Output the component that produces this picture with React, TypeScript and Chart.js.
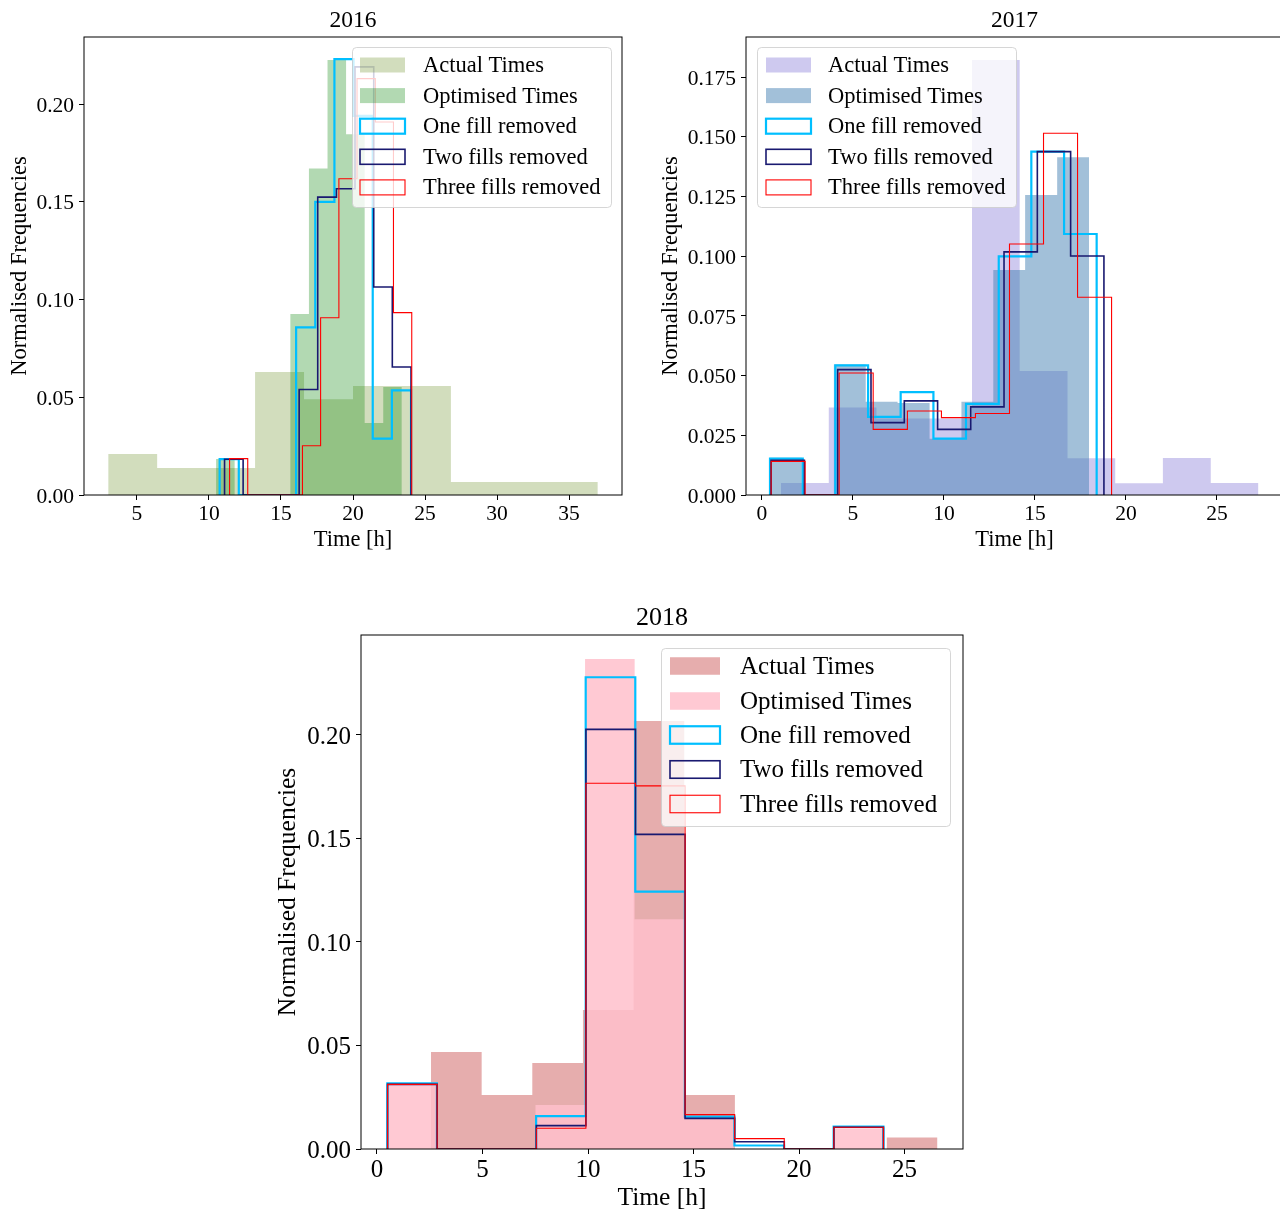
import React, { useEffect, useRef } from "react";
import { Chart, registerables } from "chart.js";

Chart.register(...registerables);

const FONT = "'Liberation Serif', 'Times New Roman', serif";

// ---------------- DATA ----------------
const LABELS = ["Actual Times", "Optimised Times", "One fill removed", "Two fills removed", "Three fills removed"];

// 2016
const ACT16_EDGES = [3.0, 6.4, 9.8, 13.2, 16.6, 20.0, 23.4, 26.8, 30.2, 33.6, 37.0];
const ACT16 = [0.021, 0.0138, 0.0138, 0.0629, 0.049, 0.0557, 0.0557, 0.0066, 0.0066, 0.0066];
const OPT16_EDGES = [10.49, 11.78, 13.07, 14.36, 15.65, 16.94, 18.23, 19.52, 20.81, 22.1, 23.39];
const OPT16 = [0.0184, 0, 0, 0, 0.0926, 0.167, 0.2225, 0.1846, 0.0368, 0.0552];
const ONE16_EDGES = [10.74, 12.07, 13.4, 14.72, 16.05, 17.38, 18.71, 20.04, 21.37, 22.7, 24.03];
const ONE16 = [0.0184, 0, 0, 0, 0.0858, 0.15, 0.223, 0.194, 0.0288, 0.0535];
const TWO16_EDGES = [11.08, 12.37, 13.67, 14.96, 16.26, 17.55, 18.85, 20.14, 21.44, 22.73, 24.03];
const TWO16 = [0.0183, 0, 0, 0, 0.054, 0.1524, 0.1567, 0.219, 0.1064, 0.0655];
const THREE16_EDGES = [11.43, 12.69, 13.96, 15.22, 16.49, 17.75, 19.02, 20.28, 21.55, 22.81, 24.08];
const THREE16 = [0.0186, 0, 0, 0, 0.0252, 0.0907, 0.1618, 0.213, 0.1908, 0.0933];
const X_TICKS16 = [5, 10, 15, 20, 25, 30, 35];
const Y_TICKS16 = [0, 0.05, 0.1, 0.15, 0.2];

// 2017
const ACT17_EDGES = [1.04, 3.67, 6.29, 8.91, 11.54, 14.16, 16.79, 19.41, 22.03, 24.66, 27.28];
const ACT17 = [0.005, 0.0366, 0.032, 0.032, 0.1822, 0.0519, 0.0154, 0.0049, 0.0155, 0.005];
const OPT17_EDGES = [0.44, 2.19, 3.95, 5.7, 7.45, 9.21, 10.96, 12.71, 14.46, 16.22, 17.97];
const OPT17 = [0.0156, 0, 0.0547, 0.039, 0.0385, 0.0236, 0.039, 0.0942, 0.1256, 0.1414];
const ONE17_EDGES = [0.44, 2.24, 4.03, 5.83, 7.62, 9.42, 11.21, 13.01, 14.8, 16.6, 18.39];
const ONE17 = [0.0152, 0, 0.0543, 0.0327, 0.0431, 0.0236, 0.0382, 0.0999, 0.1438, 0.1093];
const TWO17_EDGES = [0.5, 2.33, 4.16, 5.99, 7.82, 9.65, 11.47, 13.3, 15.13, 16.96, 18.79];
const TWO17 = [0.0145, 0, 0.0525, 0.0303, 0.0394, 0.0275, 0.0369, 0.1018, 0.1438, 0.1001];
const THREE17_EDGES = [0.5, 2.37, 4.24, 6.11, 7.99, 9.86, 11.73, 13.6, 15.47, 17.34, 19.21];
const THREE17 = [0.0141, 0, 0.0511, 0.0275, 0.0352, 0.0324, 0.0341, 0.1051, 0.1515, 0.0828];
const X_TICKS17 = [0, 5, 10, 15, 20, 25];
const Y_TICKS17 = [0, 0.025, 0.05, 0.075, 0.1, 0.125, 0.15, 0.175];

// 2018
const ACT18_EDGES = [2.56, 4.96, 7.36, 9.76, 12.16, 14.56, 16.96, 19.36, 21.76, 24.16, 26.56];
const ACT18 = [0.0469, 0.0261, 0.0415, 0.0671, 0.2068, 0.0261, 0, 0, 0, 0.0055];
const OPT18_EDGES = [0.46, 2.81, 5.16, 7.51, 9.86, 12.21, 14.56, 16.91, 19.26, 21.61, 23.97];
const OPT18 = [0.0317, 0, 0, 0.0213, 0.2367, 0.111, 0.0145, 0, 0, 0.01];
const ONE18_EDGES = [0.49, 2.84, 5.19, 7.54, 9.89, 12.24, 14.59, 16.94, 19.29, 21.64, 24.0];
const ONE18 = [0.0317, 0, 0, 0.0159, 0.2279, 0.1243, 0.0156, 0.0017, 0, 0.0108];
const TWO18_EDGES = [0.5, 2.85, 5.2, 7.55, 9.9, 12.25, 14.6, 16.95, 19.3, 21.65, 24.0];
const TWO18 = [0.0312, 0, 0, 0.0113, 0.2027, 0.152, 0.0148, 0.0035, 0, 0.0105];
const THREE18_EDGES = [0.5, 2.85, 5.2, 7.55, 9.9, 12.25, 14.6, 16.95, 19.3, 21.65, 24.0];
const THREE18 = [0.0312, 0, 0, 0.01, 0.1767, 0.1754, 0.0166, 0.005, 0, 0.0105];
const X_TICKS18 = [0, 5, 10, 15, 20, 25];
const Y_TICKS18 = [0, 0.05, 0.1, 0.15, 0.2];

// ---------------- STYLE ----------------
const C_ONE = "rgb(0,191,255)";
const C_TWO = "rgb(25,25,112)";
const C_THREE = "rgb(255,0,0)";

type Series = { label: string; edges: number[]; values: number[]; fill?: string; stroke?: string; width?: number };

type Panel = {
  canvas: { left: number; top: number; width: number; height: number };
  area: { left: number; top: number; right: number; bottom: number };
  xRange: [number, number];
  yRange: [number, number];
  xTicks: number[];
  yTicks: number[];
  yDecimals: number;
  title: string;
  titleY: number;
  titleSize: number;
  tickSize: number;
  labelSize: number;
  legendSize: number;
  yTitleX: number;
  xTitleY: number;
  legend: { box: [number, number, number, number]; patchX: number; patchW: number; patchH: number; textX: number; rows: number[] };
  series: Series[];
};

function stepPoints(edges: number[], vals: number[]) {
  const pts = [{ x: edges[0], y: 0 }];
  for (let i = 0; i < vals.length; i++) pts.push({ x: edges[i], y: vals[i] });
  pts.push({ x: edges[edges.length - 1], y: 0 });
  return pts;
}

function makeSeries(fills: string[], edges: number[][], values: number[][]): Series[] {
  return [
    { label: LABELS[0], edges: edges[0], values: values[0], fill: fills[0] },
    { label: LABELS[1], edges: edges[1], values: values[1], fill: fills[1] },
    { label: LABELS[2], edges: edges[2], values: values[2], stroke: C_ONE, width: 2.2 },
    { label: LABELS[3], edges: edges[3], values: values[3], stroke: C_TWO, width: 1.6 },
    { label: LABELS[4], edges: edges[4], values: values[4], stroke: C_THREE, width: 1.1 },
  ];
}

const ROWS_TOP = [65, 95.6, 126.2, 156.8, 187.4];

const PANELS: Panel[] = [
  {
    canvas: { left: 0, top: 0, width: 640, height: 580 },
    area: { left: 84, top: 37, right: 622, bottom: 495 },
    xRange: [1.32, 38.68],
    yRange: [0, 0.2343],
    xTicks: X_TICKS16,
    yTicks: Y_TICKS16,
    yDecimals: 2,
    title: "2016",
    titleY: 21,
    titleSize: 23.5,
    tickSize: 21.5,
    labelSize: 22.5,
    legendSize: 22.5,
    yTitleX: 20,
    xTitleY: 540,
    legend: { box: [352, 47, 611, 207], patchX: 360, patchW: 45, patchH: 15, textX: 423, rows: ROWS_TOP },
    series: makeSeries(
      ["rgba(107,142,35,0.3)", "rgba(0,128,0,0.3)"],
      [ACT16_EDGES, OPT16_EDGES, ONE16_EDGES, TWO16_EDGES, THREE16_EDGES],
      [ACT16, OPT16, ONE16, TWO16, THREE16]
    ),
  },
  {
    canvas: { left: 650, top: 0, width: 650, height: 580 },
    area: { left: 746, top: 37, right: 1283, bottom: 495 },
    xRange: [-0.879, 28.63],
    yRange: [0, 0.1918],
    xTicks: X_TICKS17,
    yTicks: Y_TICKS17,
    yDecimals: 3,
    title: "2017",
    titleY: 21,
    titleSize: 23.5,
    tickSize: 21.5,
    labelSize: 22.5,
    legendSize: 22.5,
    yTitleX: 671,
    xTitleY: 540,
    legend: { box: [757, 47, 1016, 207], patchX: 766, patchW: 45, patchH: 15, textX: 828, rows: ROWS_TOP },
    series: makeSeries(
      ["rgba(106,90,205,0.33)", "rgba(70,130,180,0.5)"],
      [ACT17_EDGES, OPT17_EDGES, ONE17_EDGES, TWO17_EDGES, THREE17_EDGES],
      [ACT17, OPT17, ONE17, TWO17, THREE17]
    ),
  },
  {
    canvas: { left: 260, top: 590, width: 720, height: 625 },
    area: { left: 361, top: 635, right: 963, bottom: 1149 },
    xRange: [-0.758, 27.77],
    yRange: [0, 0.2483],
    xTicks: X_TICKS18,
    yTicks: Y_TICKS18,
    yDecimals: 2,
    title: "2018",
    titleY: 618.5,
    titleSize: 26,
    tickSize: 25,
    labelSize: 25.5,
    legendSize: 25,
    yTitleX: 288,
    xTitleY: 1198,
    legend: { box: [661, 648, 950, 826], patchX: 670, patchW: 50, patchH: 17.5, textX: 740, rows: [666, 701, 735, 769.5, 804] },
    series: makeSeries(
      ["rgba(205,92,92,0.5)", "rgba(255,192,203,0.85)"],
      [ACT18_EDGES, OPT18_EDGES, ONE18_EDGES, TWO18_EDGES, THREE18_EDGES],
      [ACT18, OPT18, ONE18, TWO18, THREE18]
    ),
  },
];

function roundRectPath(ctx: CanvasRenderingContext2D, x: number, y: number, w: number, h: number, r: number) {
  ctx.beginPath();
  ctx.moveTo(x + r, y);
  ctx.lineTo(x + w - r, y);
  ctx.arcTo(x + w, y, x + w, y + r, r);
  ctx.lineTo(x + w, y + h - r);
  ctx.arcTo(x + w, y + h, x + w - r, y + h, r);
  ctx.lineTo(x + r, y + h);
  ctx.arcTo(x, y + h, x, y + h - r, r);
  ctx.lineTo(x, y + r);
  ctx.arcTo(x, y, x + r, y, r);
  ctx.closePath();
}

function makeDecor(p: Panel) {
  const ox = p.canvas.left;
  const oy = p.canvas.top;
  return {
    id: "decor" + p.title,
    afterDatasetsDraw(chart: any) {
      const { ctx, chartArea } = chart;
      ctx.save();
      ctx.strokeStyle = "#000";
      ctx.lineWidth = 1;
      ctx.strokeRect(chartArea.left, chartArea.top, chartArea.right - chartArea.left, chartArea.bottom - chartArea.top);
      ctx.restore();
    },
    afterDraw(chart: any) {
      const { ctx, chartArea } = chart;
      ctx.save();
      // title
      ctx.fillStyle = "#000";
      ctx.font = `${p.titleSize}px ${FONT}`;
      ctx.textAlign = "center";
      ctx.textBaseline = "middle";
      ctx.fillText(p.title, (chartArea.left + chartArea.right) / 2, p.titleY - oy);
      // legend
      const L = p.legend;
      const [bx0, by0, bx1, by1] = L.box;
      roundRectPath(ctx, bx0 - ox + 0.5, by0 - oy + 0.5, bx1 - bx0, by1 - by0, 4);
      ctx.fillStyle = "rgba(255,255,255,0.8)";
      ctx.fill();
      ctx.strokeStyle = "rgba(204,204,204,0.8)";
      ctx.lineWidth = 1;
      ctx.stroke();
      p.series.forEach((s, i) => {
        const cy = L.rows[i] - oy;
        const x = L.patchX - ox;
        const y = cy - L.patchH / 2;
        if (s.fill) {
          ctx.fillStyle = s.fill;
          ctx.fillRect(x, y, L.patchW, L.patchH);
        } else if (s.stroke) {
          ctx.strokeStyle = s.stroke;
          ctx.lineWidth = s.width || 1;
          ctx.strokeRect(x, y, L.patchW, L.patchH);
        }
        ctx.fillStyle = "#000";
        ctx.font = `${p.legendSize}px ${FONT}`;
        ctx.textAlign = "left";
        ctx.textBaseline = "middle";
        ctx.fillText(s.label, L.textX - ox, cy + 1);
      });
      ctx.restore();
    },
  };
}

function HistPanel({ p }: { p: Panel }) {
  const ref = useRef<HTMLCanvasElement | null>(null);
  useEffect(() => {
    const canvas = ref.current;
    if (!canvas) return;
    const n = p.series.length;
    const datasets = p.series.map((s, i) => ({
      type: "line" as const,
      label: s.label,
      data: stepPoints(s.edges, s.values),
      stepped: true,
      fill: s.fill ? "origin" : false,
      backgroundColor: s.fill || "transparent",
      borderColor: s.stroke || "transparent",
      borderWidth: s.stroke ? s.width : 0,
      pointRadius: 0,
      pointHoverRadius: 0,
      order: n - i,
    }));
    const lhLabel = p.labelSize * 1.2;
    const chart = new Chart(canvas, {
      type: "line",
      data: { datasets: datasets as any },
      options: {
        responsive: false,
        animation: false,
        devicePixelRatio: 1,
        events: [],
        layout: {
          padding: {
            left: 0,
            top: p.area.top - p.canvas.top,
            right: p.canvas.left + p.canvas.width - p.area.right,
            bottom: 0,
          },
        },
        plugins: {
          legend: { display: false },
          tooltip: { enabled: false },
          title: { display: false },
        },
        scales: {
          x: {
            type: "linear",
            min: p.xRange[0],
            max: p.xRange[1],
            afterBuildTicks: (s: any) => {
              s.ticks = p.xTicks.map((v) => ({ value: v }));
            },
            afterFit: (s: any) => {
              s.height = p.canvas.top + p.canvas.height - p.area.bottom;
            },
            ticks: {
              font: { family: FONT, size: p.tickSize },
              color: "#000",
              padding: 1,
              maxRotation: 0,
              autoSkip: false,
              callback: (v: any) => String(v),
            },
            grid: { drawOnChartArea: false, drawTicks: true, tickLength: 5, tickColor: "#000", color: "#000" },
            border: { display: false },
            title: {
              display: true,
              text: "Time [h]",
              color: "#000",
              font: { family: FONT, size: p.labelSize },
              padding: { top: 0, bottom: p.canvas.top + p.canvas.height - p.xTitleY - lhLabel / 2 },
            },
          },
          y: {
            type: "linear",
            min: p.yRange[0],
            max: p.yRange[1],
            afterBuildTicks: (s: any) => {
              s.ticks = p.yTicks.map((v) => ({ value: v }));
            },
            afterFit: (s: any) => {
              s.width = p.area.left - p.canvas.left;
            },
            ticks: {
              font: { family: FONT, size: p.tickSize },
              color: "#000",
              padding: 5,
              labelOffset: 2,
              autoSkip: false,
              callback: (v: any) => Number(v).toFixed(p.yDecimals),
            },
            grid: { drawOnChartArea: false, drawTicks: true, tickLength: 5, tickColor: "#000", color: "#000" },
            border: { display: false },
            title: {
              display: true,
              text: "Normalised Frequencies",
              color: "#000",
              font: { family: FONT, size: p.labelSize },
              padding: { top: p.yTitleX - p.canvas.left - lhLabel / 2, bottom: 0 },
            },
          },
        },
      },
      plugins: [makeDecor(p)],
    });
    return () => chart.destroy();
  }, [p]);
  return (
    <canvas
      ref={ref}
      width={p.canvas.width}
      height={p.canvas.height}
      style={{
        position: "absolute",
        left: p.canvas.left,
        top: p.canvas.top,
        width: p.canvas.width,
        height: p.canvas.height,
        display: "block",
      }}
    />
  );
}

export default function App() {
  return (
    <div
      style={{
        position: "fixed",
        left: 0,
        top: 0,
        width: 1280,
        height: 1215,
        overflow: "hidden",
        background: "#fff",
      }}
    >
      {PANELS.map((p) => (
        <HistPanel key={p.title} p={p} />
      ))}
    </div>
  );
}
